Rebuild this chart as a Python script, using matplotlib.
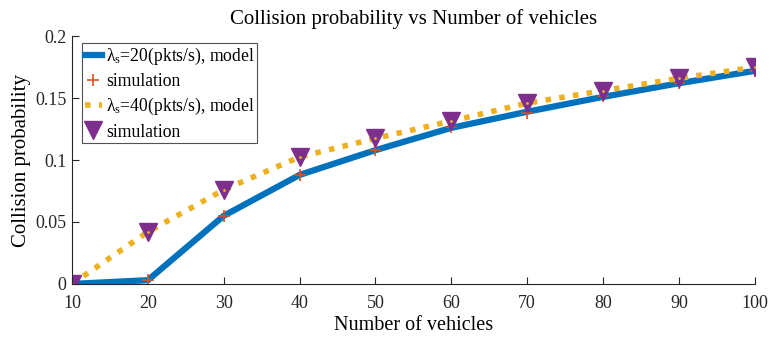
import numpy as np
import matplotlib
matplotlib.use("Agg")
import matplotlib.pyplot as plt

plt.rcParams['font.family'] = ['Liberation Serif', 'DejaVu Serif']
plt.rcParams['mathtext.fontset'] = 'custom'
plt.rcParams['mathtext.rm'] = 'Liberation Serif'
plt.rcParams['mathtext.it'] = 'Liberation Serif:italic'

vehicles = [10, 20, 30, 40, 50, 60, 70, 80, 90, 100]
model_20 = [0.0, 0.003, 0.055, 0.088, 0.108, 0.126, 0.139, 0.151, 0.162, 0.172]
sim_20 = [0.0, 0.003, 0.055, 0.088, 0.108, 0.127, 0.138, 0.152, 0.162, 0.172]
model_40 = [0.0, 0.042, 0.076, 0.1025, 0.1175, 0.1315, 0.146, 0.156, 0.166, 0.175]
sim_40 = [0.0, 0.042, 0.076, 0.1025, 0.1175, 0.1315, 0.146, 0.156, 0.166, 0.175]

blue = (0.0, 0.447, 0.741)
orange = (0.85, 0.325, 0.098)
yellow = (0.929, 0.694, 0.125)
purple = (0.494, 0.184, 0.556)

fig = plt.figure(figsize=(7.69, 3.38), dpi=100)
ax = fig.add_axes([0.0936, 0.160, 0.888, 0.733])

ax.plot(vehicles, model_20, color=blue, lw=4.5, label=r'λ$_\mathrm{s}$=20(pkts/s), model')
ax.plot(vehicles, sim_20, ls='none', marker='+', color=orange, ms=9, mew=1.2, label='simulation')
ax.plot(vehicles, model_40, color=yellow, lw=4, dashes=(1, 1.5), dash_capstyle='butt',
        label=r'λ$_\mathrm{s}$=40(pkts/s), model')
ax.plot(vehicles, sim_40, ls='none', marker='v', color=purple, ms=13, label='simulation')
ax.plot(vehicles, sim_40, ls='none', marker='.', color=yellow, ms=2)

ax.set_xlim(10, 100)
ax.set_ylim(0, 0.2)
ax.set_xticks(vehicles)
ax.set_yticks([0, 0.05, 0.1, 0.15, 0.2])
ax.set_yticklabels(['0', '0.05', '0.1', '0.15', '0.2'])
ax.tick_params(direction='in', labelsize=13, colors='0.15', length=5)
ax.tick_params(axis='x', pad=8)
ax.tick_params(axis='y', pad=4)
for s in ['top', 'right']:
    ax.spines[s].set_visible(False)
for s in ['left', 'bottom']:
    ax.spines[s].set_color('0.15')

ax.set_xlabel('Number of vehicles', fontsize=14.5, labelpad=3)
ax.set_ylabel('Collision probability', fontsize=15, labelpad=3)
ax.set_title('Collision probability vs Number of vehicles', fontsize=15, pad=9)

leg = ax.legend(loc='upper left', bbox_to_anchor=(0.0146, 0.972), fontsize=12.7, frameon=True,
                fancybox=False, edgecolor='0.15', handlelength=1.0, handletextpad=0.2,
                borderpad=0.15, labelspacing=0.35, borderaxespad=0)
leg.get_frame().set_linewidth(0.8)

fig.savefig('out.png', dpi=100)
